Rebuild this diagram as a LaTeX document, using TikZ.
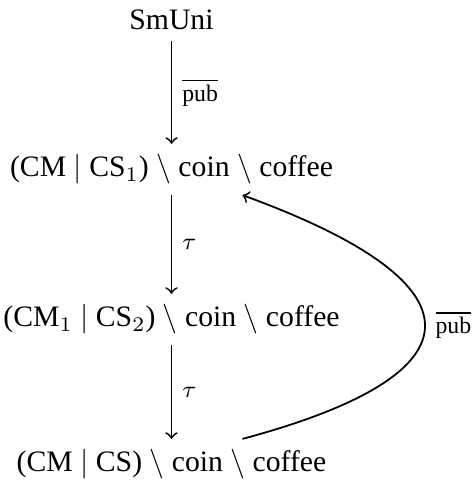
\documentclass[tikz,border=0pt]{standalone}
\usepackage{fontspec}
\setmainfont{Liberation Serif}
\begin{document}
\begin{tikzpicture}[>=to, semithick, state/.style={anchor=base}, lab/.style={font=\footnotesize}]
    \useasboundingbox (0,0) rectangle (5.585,5.764);
    \node[state] (SmUni) at (2.03,5.41) {SmUni};
    \node[state] (CMCS1) at (2.03,3.67) {(CM $|$ CS$_1$) $\setminus$ coin $\setminus$ coffee};
    \node[state] (CM1CS2) at (2.03,1.895) {(CM$_1$ $|$ CS$_2$) $\setminus$ coin $\setminus$ coffee};
    \node[state] (CMCS) at (2.03,0.178) {(CM $|$ CS) $\setminus$ coin $\setminus$ coffee};
    \draw[->] (SmUni) -- (CMCS1) node[midway, right, lab] {$\overline{\mathrm{pub}}$};
    \draw[->] (CMCS1) -- (CM1CS2) node[midway, right, lab] {$\tau$};
    \draw[->] (CM1CS2) -- (CMCS) node[midway, right, lab] {$\tau$};
    % back to the start
    \draw[->] ([xshift=0.84cm]CMCS.north) to[out=15, in=-20, distance=3.02cm]
        node[midway, right, lab] {$\overline{\mathrm{pub}}$} ([xshift=0.84cm]CMCS1.south);
\end{tikzpicture}
\end{document}
